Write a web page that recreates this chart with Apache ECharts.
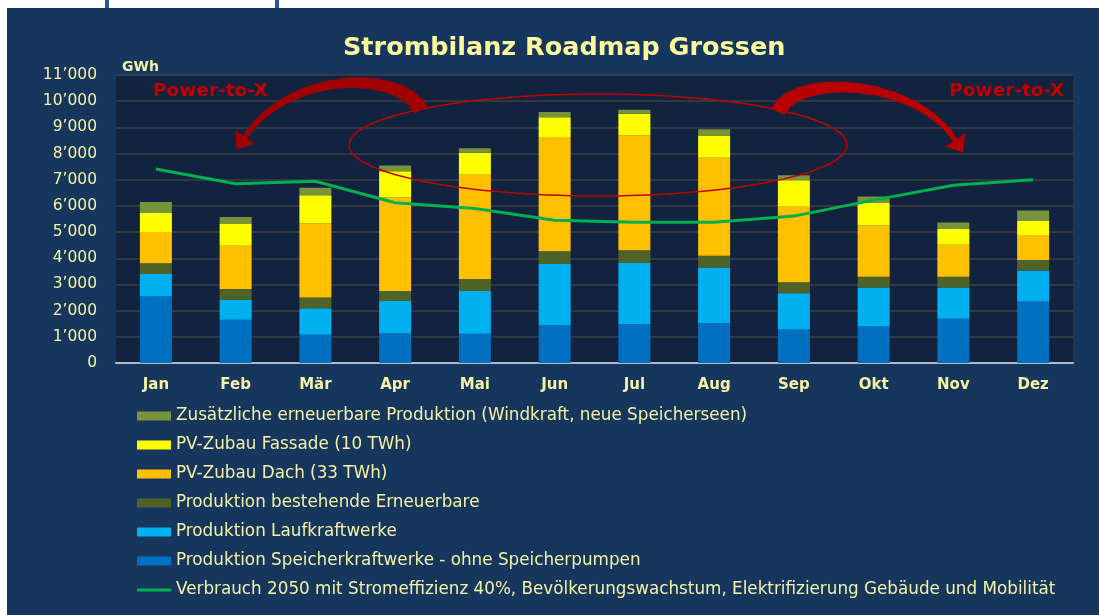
<!DOCTYPE html>
<html>
<head>
<meta charset="utf-8">
<script src="https://cdn.jsdelivr.net/npm/echarts@6/dist/echarts.min.js"></script>
<style>
html,body{margin:0;padding:0;background:#ffffff;}
#chart{width:1099px;height:615px;}
</style>
</head>
<body>
<div id="chart"></div>
<script>
const categories = ['Jan','Feb','Mär','Apr','Mai','Jun','Jul','Aug','Sep','Okt','Nov','Dez'];
const speicher    = [2540,1650,1080,1140,1120,1450,1480,1520,1280,1390,1690,2350];
const lauf        = [860,770,1010,1230,1630,2330,2340,2130,1380,1490,1190,1180];
const bestehende  = [410,410,410,380,460,490,490,450,420,410,410,400];
const dach        = [1190,1650,2830,3570,4010,4360,4380,3740,2920,1960,1230,930];
const fassade     = [730,850,1080,1000,810,760,830,850,980,860,600,560];
const zusaetzlich = [420,250,280,220,170,200,150,240,190,250,250,400];
const verbrauch   = [7410,6850,6940,6120,5900,5450,5380,5380,5610,6220,6790,7000];

const names = {
  zus: 'Zusätzliche erneuerbare Produktion (Windkraft, neue Speicherseen)',
  fas: 'PV-Zubau Fassade (10 TWh)',
  dach: 'PV-Zubau Dach (33 TWh)',
  best: 'Produktion bestehende Erneuerbare',
  lauf: 'Produktion Laufkraftwerke',
  sp: 'Produktion Speicherkraftwerke - ohne Speicherpumpen',
  verb: 'Verbrauch 2050 mit Stromeffizienz 40%, Bevölkerungswachstum, Elektrifizierung Gebäude und Mobilität'
};

const FONT = '"DejaVu Sans", sans-serif';
const TXT = '#f4f2a6';

function bar(name, data, color) {
  return { name, type: 'bar', stack: 'prod', data, barWidth: 32,
    itemStyle: { color }, emphasis: { disabled: true } };
}

// decoration helpers (pixel space)
function bez(p0, p1, p2, p3, t) {
  const u = 1 - t;
  return [
    u*u*u*p0[0] + 3*u*u*t*p1[0] + 3*u*t*t*p2[0] + t*t*t*p3[0],
    u*u*u*p0[1] + 3*u*u*t*p1[1] + 3*u*t*t*p2[1] + t*t*t*p3[1]
  ];
}
function arrowPolygon(p0, p1, p2, p3, w0, w1, headHalf, headLen) {
  const n = 40, left = [], right = [];
  for (let i = 0; i <= n; i++) {
    const t = i / n;
    const a = bez(p0,p1,p2,p3,Math.max(0,t-0.01)), b = bez(p0,p1,p2,p3,Math.min(1,t+0.01));
    let dx = b[0]-a[0], dy = b[1]-a[1]; const L = Math.hypot(dx,dy); dx/=L; dy/=L;
    const c = bez(p0,p1,p2,p3,t), w = (w0*(1-t) + w1*t)/2;
    left.push([c[0] - dy*w, c[1] + dx*w]);
    right.push([c[0] + dy*w, c[1] - dx*w]);
  }
  let dx = p3[0]-p2[0], dy = p3[1]-p2[1]; const L = Math.hypot(dx,dy); dx/=L; dy/=L;
  const head = [
    [p3[0] + dy*headHalf, p3[1] - dx*headHalf],
    [p3[0] + dx*headLen, p3[1] + dy*headLen],
    [p3[0] - dy*headHalf, p3[1] + dx*headHalf]
  ];
  return right.concat([head[0], head[1], head[2]]).concat(left.reverse());
}
function ellipsePts(cx, cy, rx, ry) {
  const pts = [];
  for (let i = 0; i < 120; i++) {
    const a = i / 120 * Math.PI * 2;
    pts.push([cx + rx*Math.cos(a), cy + ry*Math.sin(a)]);
  }
  return pts;
}

const chart = echarts.init(document.getElementById('chart'), null, { renderer: 'canvas' });

const option = {
  backgroundColor: '#17365d',
  animation: false,
  title: [
    { text: 'Strombilanz Roadmap Grossen', left: 338, top: 30,
      textStyle: { fontFamily: FONT, fontWeight: 'bold', fontSize: 25.5, color: '#fcfa9c' } },
    { text: 'GWh', left: 117, top: 55,
      textStyle: { fontFamily: FONT, fontWeight: 'bold', fontSize: 14, color: TXT } }
  ],
  grid: { left: 116, right: 26, top: 75, bottom: 252, show: true,
    backgroundColor: '#11233e', borderWidth: 0 },
  legend: {
    orient: 'vertical', left: 132, top: 401,
    itemWidth: 34, itemHeight: 9, itemGap: 9,
    selectedMode: false,
    textStyle: { fontFamily: FONT, fontSize: 16.8, color: TXT, lineHeight: 20 },
    data: [
      { name: names.zus, icon: 'rect' },
      { name: names.fas, icon: 'rect' },
      { name: names.dach, icon: 'rect' },
      { name: names.best, icon: 'rect' },
      { name: names.lauf, icon: 'rect' },
      { name: names.sp, icon: 'rect' },
      { name: names.verb, icon: 'path://M0,0 L34,0 L34,3 L0,3 Z' }
    ]
  },
  xAxis: {
    type: 'category', data: categories,
    axisLine: { lineStyle: { color: '#b3bac6', width: 2 } },
    axisTick: { show: false },
    axisLabel: { fontFamily: FONT, fontWeight: 'bold', fontSize: 15, color: TXT, margin: 15 }
  },
  yAxis: {
    type: 'value', min: 0, max: 11000, interval: 1000,
    axisLine: { show: false }, axisTick: { show: false },
    splitLine: { lineStyle: { color: '#3e4046', width: 1.5 } },
    axisLabel: { fontFamily: FONT, fontSize: 15.5, color: TXT, margin: 19,
      formatter: v => v >= 1000 ? Math.floor(v/1000) + '’' + String(v % 1000).padStart(3,'0') : String(v) }
  },
  series: [
    bar(names.sp, speicher, '#0070c0'),
    bar(names.lauf, lauf, '#00b0f0'),
    bar(names.best, bestehende, '#4f6228'),
    bar(names.dach, dach, '#ffc000'),
    bar(names.fas, fassade, '#ffff00'),
    bar(names.zus, zusaetzlich, '#77933c'),
    { name: names.verb, type: 'line', data: verbrauch, symbol: 'none', z: 5,
      lineStyle: { color: '#00b050', width: 3 }, itemStyle: { color: '#00b050' },
      emphasis: { disabled: true } }
  ],
  graphic: [
    // white margins of the slide
    { type: 'rect', z: 100, shape: { x: 0, y: 0, width: 1099, height: 8 }, style: { fill: '#ffffff' } },
    { type: 'rect', z: 100, shape: { x: 0, y: 0, width: 7, height: 615 }, style: { fill: '#ffffff' } },
    { type: 'rect', z: 101, shape: { x: 105, y: 0, width: 4, height: 8 }, style: { fill: '#2f5597' } },
    { type: 'rect', z: 101, shape: { x: 275, y: 0, width: 4, height: 8 }, style: { fill: '#2f5597' } },
    // ellipse
    { type: 'polygon', z: 50, shape: { points: ellipsePts(598, 145, 249, 51) },
      style: { fill: 'none', stroke: '#c00000', lineWidth: 1.5 } },
    // arrows
    { type: 'polygon', z: 51,
      shape: { points: arrowPolygon([421,110],[400,70],[290,70],[245,137], 15, 5, 12, 15) },
      style: { fill: '#a00000' } },
    { type: 'polygon', z: 51,
      shape: { points: arrowPolygon([778,112],[795,73],[915,78],[955,140], 15, 5, 12, 15) },
      style: { fill: '#b80000' } },
    // Power-to-X labels
    { type: 'text', z: 52, style: { text: 'Power-to-X', x: 153, y: 91, textVerticalAlign: 'middle',
      font: 'bold 18.5px ' + FONT, fill: '#c00000' } },
    { type: 'text', z: 52, style: { text: 'Power-to-X', x: 1064, y: 91, textAlign: 'right', textVerticalAlign: 'middle',
      font: 'bold 18.5px ' + FONT, fill: '#c00000' } }
  ]
};
chart.setOption(option);
</script>
</body>
</html>
